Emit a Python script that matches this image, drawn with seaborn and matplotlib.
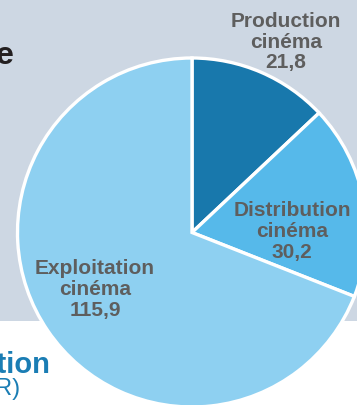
import matplotlib
matplotlib.use("Agg")
import matplotlib.pyplot as plt
import seaborn as sns
from matplotlib.patches import Rectangle

# Revenue by segment of the film industry (M EUR)
segments = ["Production", "Distribution", "Exploitation"]
values = [21.8, 30.2, 115.9]
sublabel = "cinéma"

colors = ["#1878AC", "#56B9EA", "#8ED0F1"]
panel_color = "#CDD7E3"
label_color = "#5E5E5E"
title_blue = "#1A7DB4"

sns.set_theme(style="white")
plt.rcParams["font.family"] = ["Liberation Sans", "DejaVu Sans"]

W, H = 357, 406
fig = plt.figure(figsize=(W / 100, H / 100), dpi=100)
ax = fig.add_axes([0, 0, 1, 1])

# light panel behind the upper part of the chart
ax.add_patch(Rectangle((0, H - 322), W, 322, facecolor=panel_color,
                       edgecolor="none", zorder=0))

cx, cy, r = 192, H - 233.5, 174.5
wedges, _ = ax.pie(values, colors=colors, startangle=90, counterclock=False,
                   center=(cx, cy), radius=r,
                   wedgeprops=dict(edgecolor="white", linewidth=2.4, zorder=2))

ax.set_xlim(0, W)
ax.set_ylim(0, H)
ax.set_aspect("equal")
ax.axis("off")

# segment labels: name / "cinéma" / value, stacked on fixed baselines
label_pos = {
    "Production": (286, 26.7),
    "Distribution": (292, 216),
    "Exploitation": (95, 274),
}
step = 20.8
for name, val in zip(segments, values):
    x, y0 = label_pos[name]
    lines = [name, sublabel, f"{val:.1f}".replace(".", ",")]
    for i, line in enumerate(lines):
        ax.text(x, H - (y0 + i * step), line, ha="center", va="baseline",
                fontsize=15, fontweight="bold", color=label_color, zorder=5)

# headings
ax.text(13.5, H - 63.5, "Chaîne de valeur de la filière", ha="right",
        va="baseline", fontsize=23, fontweight="bold", color="#231F20")
ax.text(49.5, H - 373, "Répartition", ha="right", va="baseline",
        fontsize=21, fontweight="bold", color=title_blue)
ax.text(20.5, H - 395, "(en M EUR)", ha="right", va="baseline",
        fontsize=17, color=title_blue)

fig.savefig("out.png", dpi=100)
